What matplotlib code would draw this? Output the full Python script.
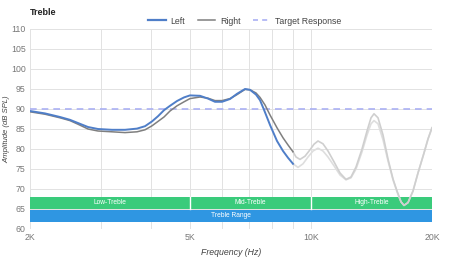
import matplotlib
matplotlib.use("Agg")
import matplotlib.pyplot as plt
from matplotlib.ticker import FixedLocator, NullLocator, NullFormatter
from matplotlib.lines import Line2D

plt.rcParams['font.family'] = ['Liberation Sans', 'DejaVu Sans']

# Frequencies (Hz) and amplitudes (dB SPL)
left_freq = [2000, 2179, 2375, 2514, 2632, 2788, 2952, 3199, 3447, 3692, 3865, 4023, 4164, 4309,
             4460, 4643, 4833, 5000, 5296, 5544, 5771, 6007, 6289, 6547, 6853, 7052, 7299, 7468,
             7641, 7909, 8232, 8520, 8768, 9022]
left_db = [89.5, 88.9, 88.0, 87.3, 86.5, 85.5, 85.0, 84.8, 84.8, 85.1, 85.7, 86.9, 88.2, 89.7,
           90.8, 92.0, 92.9, 93.4, 93.3, 92.6, 91.8, 91.8, 92.5, 93.8, 95.0, 94.8, 93.6, 92.2,
           89.8, 86.0, 82.0, 79.5, 77.8, 76.3]

right_freq = [2000, 2179, 2375, 2514, 2632, 2788, 2952, 3199, 3447, 3692, 3865, 4023, 4164, 4309,
              4460, 4643, 4833, 5000, 5296, 5544, 5771, 6007, 6289, 6547, 6853, 7052, 7299, 7468,
              7685, 7909, 8232, 8520, 8768, 9022]
right_db = [89.3, 88.7, 87.8, 87.1, 86.2, 85.0, 84.5, 84.3, 84.1, 84.3, 84.8, 85.8, 86.9, 88.0,
            89.5, 90.8, 91.8, 92.6, 93.0, 92.7, 92.1, 92.1, 92.6, 93.6, 94.9, 94.8, 94.0, 92.9,
            91.0, 88.5, 85.3, 82.8, 81.0, 79.3]

# Faded continuations beyond the measured range
ext_freq = [9022, 9179, 9390, 9663, 9944, 10174, 10410, 10712, 11024, 11409, 11808, 12221, 12576,
            12942, 13395, 13784, 14104, 14348, 14680, 15107, 15545, 15997, 16368, 16747, 17037,
            17431, 17938, 18458, 19104, 19547, 20000]
right_ext_db = [79.3, 78.0, 77.4, 78.2, 79.8, 81.2, 82.0, 81.3, 79.5, 76.8, 74.0, 72.4, 73.0,
                75.5, 80.0, 84.5, 87.8, 88.8, 87.8, 83.5, 77.5, 72.5, 69.5, 66.8, 65.9,
                66.6, 69.5, 74.0, 79.0, 82.5, 85.3]
left_ext_freq = [9022, 9283, 9553, 9830, 10116, 10410, 10712, 11024, 11409, 11808, 12221, 12576,
                 12942, 13395, 13784, 14104, 14348, 14680, 15107, 15545, 15997, 16368, 16747, 17037,
                 17431, 17938, 18458, 19104, 19547, 20000]
left_ext_db = [76.3, 75.4, 76.3, 78.0, 79.5, 80.2, 79.5, 78.0, 75.8, 73.5, 72.3, 72.8,
               75.0, 79.3, 83.5, 86.3, 87.1, 86.3, 82.3, 77.0, 72.3, 69.3, 66.8, 65.9,
               66.6, 69.5, 74.0, 79.0, 82.5, 85.3]

target_db = 90

band_names = ['Low-Treble', 'Mid-Treble', 'High-Treble']
band_start = [2000, 5000, 10000]
band_end = [5000, 10000, 20000]
range_name = 'Treble Range'
range_start, range_end = 2000, 20000

xtick_vals = [2000, 5000, 10000, 20000]
xtick_labels = ['2K', '5K', '10K', '20K']
xgrid_vals = [2000, 3000, 4000, 5000, 6000, 7000, 8000, 9000, 10000, 20000]
ytick_vals = [60, 65, 70, 75, 80, 85, 90, 95, 100, 105, 110]

fig = plt.figure(figsize=(4.5, 2.6), dpi=100)
ax = fig.add_axes([30/450, 1-229/260, 402/450, 200/260])
ax.set_xscale('log')
ax.set_xlim(2000, 20000)
ax.set_ylim(60, 110)

for s in ax.spines.values():
    s.set_visible(False)
for xv in xgrid_vals:
    ax.axvline(xv, color='#e2e2e2', lw=0.7, zorder=0)
for yv in ytick_vals:
    ax.axhline(yv, color='#e2e2e2', lw=0.7, zorder=0)

# bands
green = '#3acb7b'
blue = '#2f96e2'
for name, a, b in zip(band_names, band_start, band_end):
    ax.fill_between([a, b], 65, 68, color=green, lw=0, zorder=1)
    ax.text((a*b)**0.5, 66.5, name, color='white', fontsize=4.8, ha='center', va='center', zorder=2)
for a in band_start[1:]:
    ax.axvline(a, ymin=(65-60)/50, ymax=(68-60)/50, color='white', lw=1.0, zorder=1.5)
ax.fill_between([range_start, range_end], 61.8, 64.7, color=blue, lw=0, zorder=1)
ax.text((range_start*range_end)**0.5, 63.25, range_name, color='white', fontsize=4.8,
        ha='center', va='center', zorder=2)

ax.axhline(target_db, color='#aab0f4', lw=1.2, dashes=(4, 3), zorder=2)
ax.plot(left_ext_freq, left_ext_db, color='#dedede', lw=1.2, zorder=3)
ax.plot(ext_freq, right_ext_db, color='#cfcfcf', lw=1.2, zorder=3)
ax.plot(right_freq, right_db, color='#7f7f7f', lw=1.1, zorder=4)
ax.plot(left_freq, left_db, color='#4f7ec8', lw=1.4, zorder=5)

ax.xaxis.set_major_locator(FixedLocator(xtick_vals))
ax.xaxis.set_minor_locator(NullLocator())
ax.xaxis.set_minor_formatter(NullFormatter())
ax.set_xticklabels(xtick_labels)
ax.set_yticks(ytick_vals)
ax.tick_params(axis='both', length=0, labelsize=6.3, colors='#777777', pad=3)
ax.set_xlabel('Frequency (Hz)', fontsize=6.3, style='italic', color='#444444', labelpad=4)
ax.set_ylabel('Amplitude (dB SPL)', fontsize=5.6, style='italic', color='#444444')
ax.yaxis.set_label_coords(-20/402, 0.5)

fig.text(30/450, 1-12/260, 'Treble', fontsize=6.5, fontweight='bold', color='#222222',
         ha='left', va='center')

handles = [Line2D([], [], color='#4f7ec8', lw=1.6),
           Line2D([], [], color='#7f7f7f', lw=1.1),
           Line2D([], [], color='#aab0f4', lw=1.2, dashes=(3, 2.5))]
fig.legend(handles, ['Left', 'Right', 'Target Response'], loc='center',
           bbox_to_anchor=(245/450, 1-21/260), ncol=3, frameon=False, fontsize=6.3,
           handlelength=2.0, handletextpad=0.5, columnspacing=1.5, labelcolor='#444444')

fig.savefig('out.png', dpi=100)
